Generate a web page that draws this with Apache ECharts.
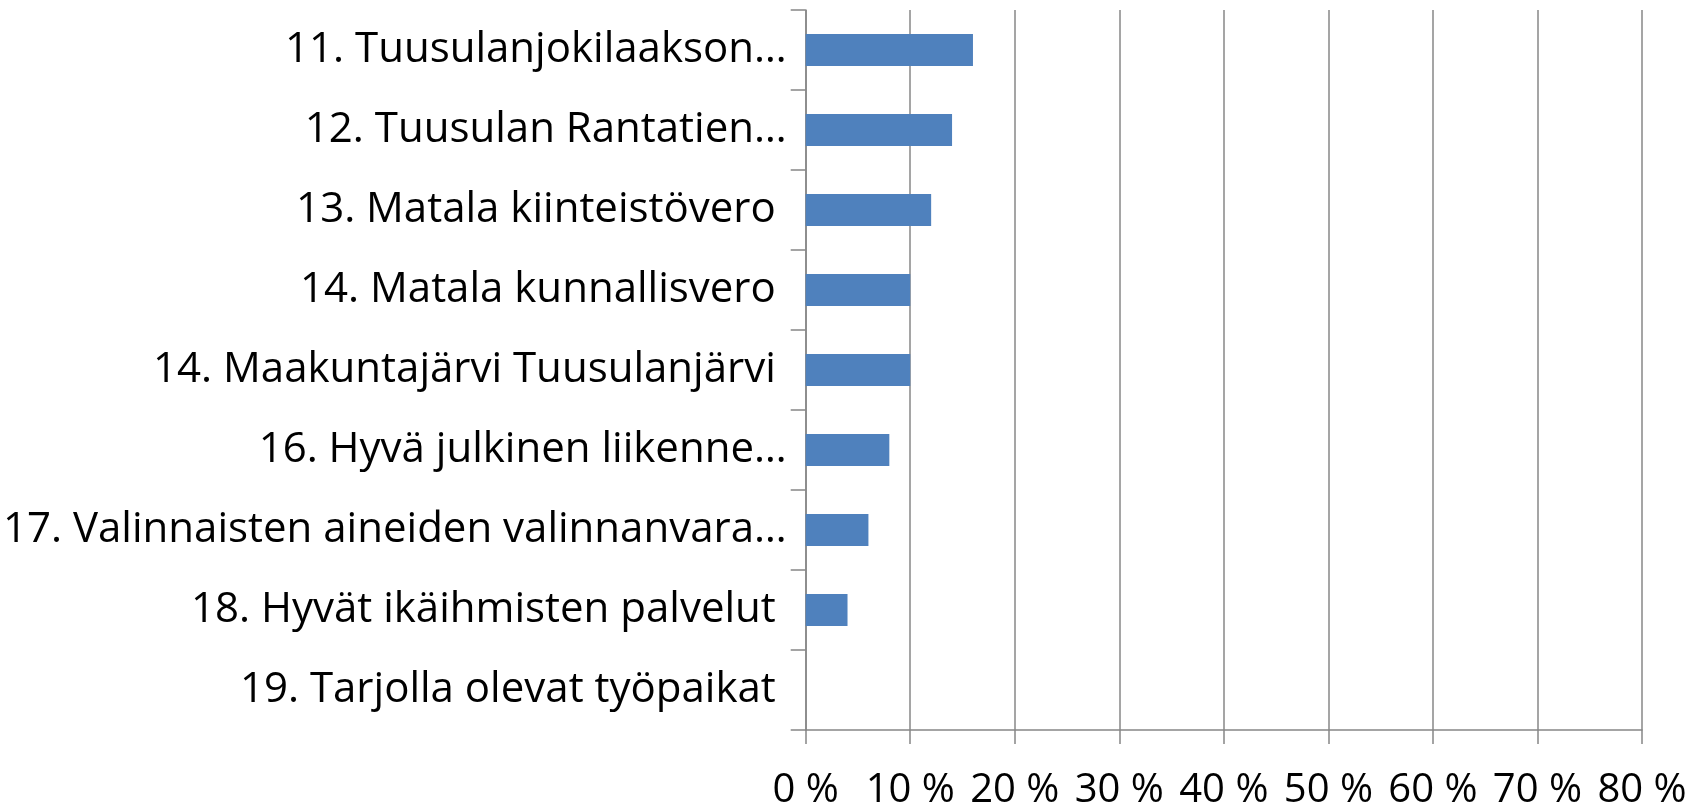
<!DOCTYPE html>
<html>
<head>
<meta charset="utf-8">
<script src="https://cdn.jsdelivr.net/npm/echarts@6/dist/echarts.min.js"></script>
<style>
  html, body { margin: 0; padding: 0; background: #fff; }
  #chart { width: 1707px; height: 811px; }
</style>
</head>
<body>
<div id="chart"></div>
<script>
// luokat ylhäältä alas
const categories = [
  "11. Tuusulanjokilaakson…",
  "12. Tuusulan Rantatien…",
  "13. Matala kiinteistövero ",
  "14. Matala kunnallisvero ",
  "14. Maakuntajärvi Tuusulanjärvi ",
  "16. Hyvä julkinen liikenne…",
  "17. Valinnaisten aineiden valinnanvara…",
  "18. Hyvät ikäihmisten palvelut ",
  "19. Tarjolla olevat työpaikat "
];
const values = [16, 14, 12, 10, 10, 8, 6, 4, 0];
const xTicks = [0, 10, 20, 30, 40, 50, 60, 70, 80];

const font = '"Open Sans", sans-serif';
const lineColor = "#878787";

let myChart = echarts.init(document.getElementById("chart"));
myChart.setOption({
  animation: false,
  grid: { left: 805, right: 65, top: 10, bottom: 80 },
  xAxis: {
    type: "value",
    min: xTicks[0],
    max: xTicks[xTicks.length - 1],
    interval: 10,
    axisLine: { show: true, lineStyle: { color: lineColor, width: 1.5 } },
    axisTick: { show: true, length: 14, lineStyle: { color: lineColor, width: 1.5 } },
    splitLine: { show: true, lineStyle: { color: lineColor, width: 1.5 } },
    axisLabel: {
      formatter: "{value} %",
      color: "#000",
      fontFamily: font,
      fontSize: 40,
      margin: 41
    }
  },
  yAxis: {
    type: "category",
    inverse: true,
    data: categories,
    axisLine: { show: true, lineStyle: { color: lineColor, width: 1.5 } },
    axisTick: { show: true, length: 15, lineStyle: { color: lineColor, width: 1.5 } },
    axisLabel: {
      color: "#000",
      fontFamily: font,
      fontSize: 42,
      margin: 19
    }
  },
  series: [
    {
      type: "bar",
      data: values,
      barWidth: "40%",
      itemStyle: { color: "#4F81BD" }
    }
  ]
});
</script>
</body>
</html>
